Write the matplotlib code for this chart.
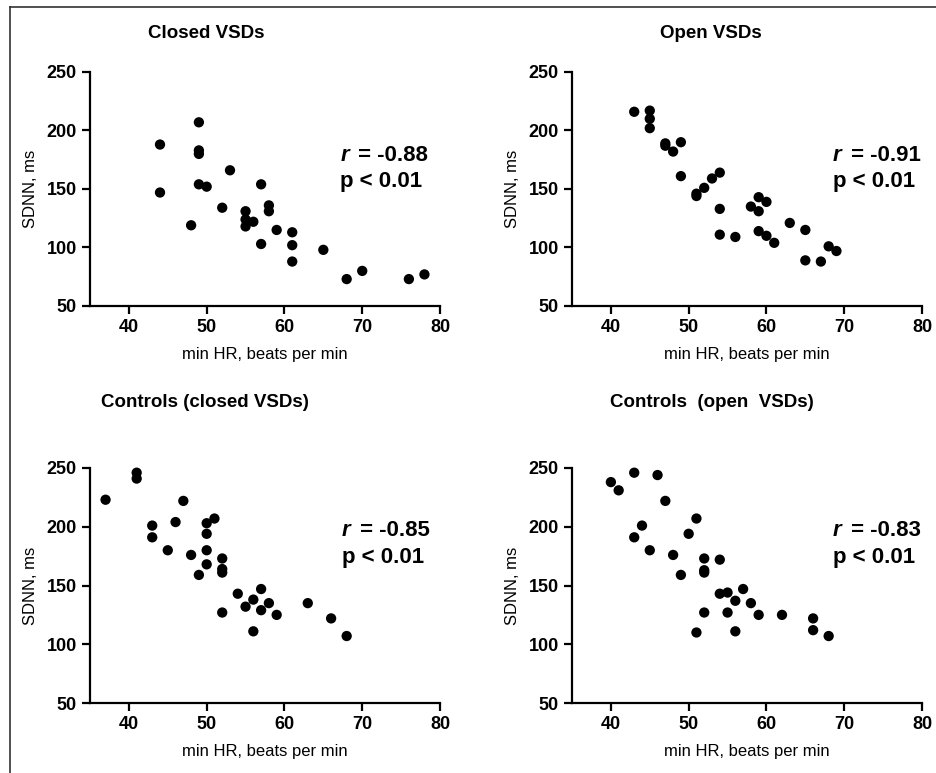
import matplotlib.pyplot as plt
from matplotlib.lines import Line2D

plt.rcParams["font.family"] = ["Liberation Sans", "DejaVu Sans"]

# Closed VSDs
closed_hr = [44, 44, 49, 49, 49, 49, 50, 48, 53, 52, 55, 55, 55, 56, 57, 57,
             58, 58, 59, 61, 61, 61, 65, 68, 70, 76, 78]
closed_sdnn = [188, 147, 207, 183, 180, 154, 152, 119, 166, 134, 131, 124, 118, 122, 154, 103,
               136, 131, 115, 113, 102, 88, 98, 73, 80, 73, 77]

# Open VSDs
open_hr = [43, 45, 45, 45, 47, 47, 48, 49, 49, 51, 51, 52, 53, 54, 54, 54,
           56, 58, 59, 59, 59, 60, 60, 61, 63, 65, 65, 67, 68, 69]
open_sdnn = [216, 217, 210, 202, 189, 187, 182, 190, 161, 146, 144, 151, 159, 164, 133, 111,
             109, 135, 143, 131, 114, 139, 110, 104, 121, 115, 89, 88, 101, 97]

# Controls (closed VSDs)
ctrl_closed_hr = [37, 41, 41, 43, 43, 45, 46, 47, 48, 49, 50, 50, 50, 50, 51, 52,
                  52, 52, 52, 54, 55, 56, 56, 57, 57, 58, 59, 63, 66, 68]
ctrl_closed_sdnn = [223, 246, 241, 201, 191, 180, 204, 222, 176, 159, 203, 194, 180, 168, 207, 173,
                    164, 161, 127, 143, 132, 138, 111, 147, 129, 135, 125, 135, 122, 107]

# Controls (open VSDs)
ctrl_open_hr = [40, 41, 43, 43, 44, 45, 46, 47, 48, 49, 50, 51, 51, 52, 52, 52,
                52, 54, 54, 55, 55, 56, 56, 57, 58, 59, 62, 66, 66, 68]
ctrl_open_sdnn = [238, 231, 246, 191, 201, 180, 244, 222, 176, 159, 194, 207, 110, 173, 163, 161,
                  127, 172, 143, 144, 127, 137, 111, 147, 135, 125, 125, 122, 112, 107]

titles = ["Closed VSDs", "Open VSDs", "Controls (closed VSDs)", "Controls  (open  VSDs)"]
r_values = ["-0.88", "-0.91", "-0.85", "-0.83"]
p_text = "p < 0.01"

panels = [
    (closed_hr, closed_sdnn),
    (open_hr, open_sdnn),
    (ctrl_closed_hr, ctrl_closed_sdnn),
    (ctrl_open_hr, ctrl_open_sdnn),
]

fig = plt.figure(figsize=(9.37, 7.73), dpi=100)

W, H = 937.0, 773.0
# axes boxes in pixels: left, top, right, bottom
boxes = [(90, 72, 440, 306), (572, 72, 922, 306), (90, 468, 440, 703), (572, 468, 922, 703)]
title_pos = [(206, 33), (711, 33), (205, 403), (712, 403)]
text_pos = [(0.715, 0.69), (0.745, 0.69), (0.72, 0.78), (0.745, 0.78)]

for i, ((hr, sdnn), (l, t, r, b)) in enumerate(zip(panels, boxes)):
    ax = fig.add_axes([l / W, 1 - b / H, (r - l) / W, (b - t) / H])
    ax.scatter(hr, sdnn, s=55, color="black", edgecolors="none", zorder=3, clip_on=False)
    ax.set_xlim(35, 80)
    ax.set_ylim(50, 250)
    ax.set_xticks([40, 50, 60, 70, 80])
    ax.set_yticks([50, 100, 150, 200, 250])
    for side in ["top", "right"]:
        ax.spines[side].set_visible(False)
    for side in ["left", "bottom"]:
        ax.spines[side].set_linewidth(1.6)
    ax.tick_params(width=1.6, length=5.5, labelsize=13, pad=4)
    for lab in ax.get_xticklabels() + ax.get_yticklabels():
        lab.set_fontweight("bold")
    ax.set_xlabel("min HR, beats per min", fontsize=12, labelpad=8)
    ax.set_ylabel("SDNN, ms", fontsize=12, labelpad=6)

    # correlation note: italic r, then the rest upright
    tx, ty = text_pos[i]
    ax.text(tx, ty, "r", transform=ax.transAxes,
            fontsize=16, fontweight="bold", fontstyle="italic", va="top", ha="left")
    ax.text(tx + 0.035, ty, " = " + r_values[i], transform=ax.transAxes,
            fontsize=16, fontweight="bold", va="top", ha="left")
    ax.text(tx, ty - 0.115, p_text, transform=ax.transAxes,
            fontsize=16, fontweight="bold", va="top", ha="left")

    px, py = title_pos[i]
    fig.text(px / W, 1 - py / H, titles[i], fontsize=13.5, fontweight="bold",
             ha="center", va="center")

# outer frame (left and top edges visible in the source image)
fig.add_artist(Line2D([10 / W, 10 / W], [0, 1 - 7 / H], color="#333333", lw=1.2))
fig.add_artist(Line2D([10 / W, 1], [1 - 7 / H, 1 - 7 / H], color="#333333", lw=1.2))

fig.savefig("out.png", dpi=100)
